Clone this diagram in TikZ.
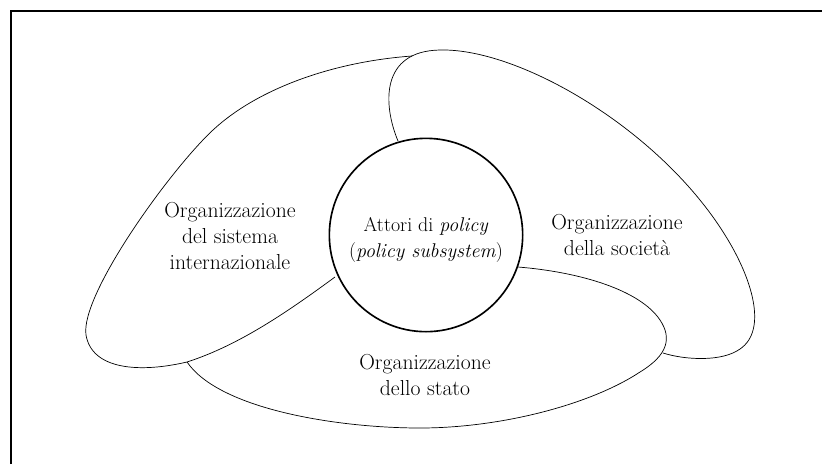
\documentclass[tikz,border=0pt]{standalone}
\begin{document}
\begin{tikzpicture}[x=0.03cm,y=-0.03cm,
  lobe/.style={line width=0.6pt, line join=round},
  core/.style={circle, draw, line width=1.4pt, minimum size=5.8cm, inner sep=0pt},
  label/.style={align=center, font=\fontsize{18.5}{22.5}\selectfont},
  corelabel/.style={align=center, font=\fontsize{17}{22.5}\selectfont}]
  \useasboundingbox (0,0) rectangle (822,464);
  % frame (top and left edges)
  \draw[line width=1.3pt] (11,464) -- (11,11) -- (822,11);

  % central circle
  \node[core] (core) at (426,235) {};
  \node[corelabel] (coretext) at (426,240) {Attori di \textit{policy}\\(\textit{policy subsystem})};

  % international lobe
  \draw[lobe] (335,277) .. controls (290,310) and (240,345) .. (187,362)
    .. controls (140,373) and (92,370) .. (86,335)
    .. controls (80,295) and (170,170) .. (213,130)
    .. controls (256,90) and (330,62) .. (412,56);
  % society lobe
  \draw[lobe] (398,141) .. controls (383,105) and (380,51) .. (440,50)
    .. controls (520,48) and (660,130) .. (725,235)
    .. controls (752,278) and (768,330) .. (740,349)
    .. controls (722,362) and (685,360) .. (663,353);
  % state lobe
  \draw[lobe] (518,267) .. controls (580,272) and (640,290) .. (660,320)
    .. controls (672,338) and (668,355) .. (640,372)
    .. controls (590,405) and (500,428) .. (420,428)
    .. controls (340,428) and (220,410) .. (187,362);

  % lobe labels
  \node[label] (intl) at (230,236) {Organizzazione\\del sistema\\internazionale};
  \node[label] (soc) at (617,235) {Organizzazione\\della società};
  \node[label] (state) at (425,375) {Organizzazione\\dello stato};
\end{tikzpicture}
\end{document}
